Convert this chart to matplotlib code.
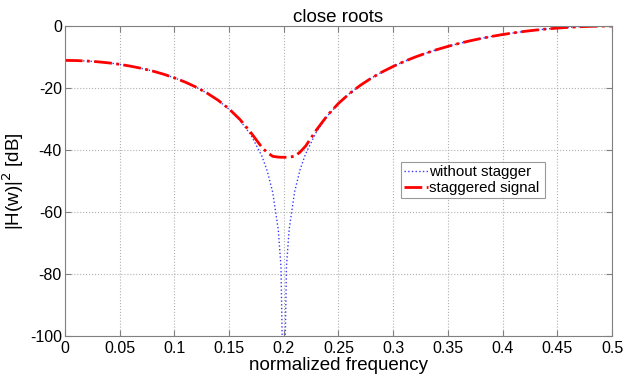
import matplotlib
matplotlib.use("Agg")
import matplotlib.pyplot as plt

plt.rcParams['font.family'] = ['Liberation Sans', 'DejaVu Sans']
plt.rcParams['axes.unicode_minus'] = False

# frequency grid (normalized)
freq = [0.00, 0.01, 0.02, 0.03, 0.04, 0.05, 0.06, 0.07, 0.08, 0.09,
        0.10, 0.11, 0.12, 0.13, 0.14, 0.15, 0.16, 0.17, 0.18, 0.185,
        0.19, 0.195, 0.1975, 0.20, 0.2025, 0.205,
        0.21, 0.215, 0.22, 0.23, 0.24, 0.25, 0.26, 0.27, 0.28, 0.29,
        0.30, 0.31, 0.32, 0.33, 0.34, 0.35, 0.36, 0.37, 0.38, 0.39,
        0.40, 0.41, 0.42, 0.43, 0.44, 0.45, 0.46, 0.47, 0.48, 0.49, 0.50]

# without stagger (dB)
without_stagger = [-11.10, -11.15, -11.30, -11.55, -11.90, -12.37, -12.96, -13.67, -14.52, -15.53,
                   -16.72, -18.11, -19.75, -21.69, -24.02, -26.87, -30.45, -35.18, -41.98, -46.87,
                   -53.81, -65.75, -77.70, -130.0, -77.60, -65.57,
                   -53.46, -46.34, -41.28, -34.11, -29.02, -25.08, -21.86, -19.16, -16.84, -14.82,
                   -13.04, -11.45, -10.03, -8.75, -7.60, -6.57, -5.63, -4.79, -4.03, -3.35,
                   -2.74, -2.20, -1.72, -1.31, -0.96, -0.66, -0.42, -0.23, -0.10, -0.02, 0.0]

# staggered signal (dB)
staggered = [-11.10, -11.15, -11.30, -11.55, -11.90, -12.37, -12.96, -13.67, -14.52, -15.53,
             -16.72, -18.11, -19.74, -21.67, -23.96, -26.75, -30.18, -34.43, -39.18, -40.90,
             -42.10, -42.35, -42.40, -42.40, -42.40, -42.35,
             -42.08, -40.70, -38.79, -33.51, -28.83, -25.00, -21.84, -19.15, -16.83, -14.82,
             -13.04, -11.45, -10.03, -8.75, -7.60, -6.57, -5.63, -4.79, -4.03, -3.35,
             -2.74, -2.20, -1.72, -1.31, -0.96, -0.66, -0.42, -0.23, -0.10, -0.02, 0.0]

xticks = [0, 0.05, 0.1, 0.15, 0.2, 0.25, 0.3, 0.35, 0.4, 0.45, 0.5]
xtick_labels = ['0', '0.05', '0.1', '0.15', '0.2', '0.25', '0.3', '0.35', '0.4', '0.45', '0.5']
yticks = [-100, -80, -60, -40, -20, 0]

fig = plt.figure(figsize=(6.35, 3.78), dpi=100)
ax = fig.add_axes([0.102, 0.1124, 0.862, 0.8187])

ax.plot(freq, without_stagger, color='#3a3aff', linestyle=':', linewidth=1.0,
        label='without stagger')
ax.plot(freq, staggered, color='red', linestyle='-.', linewidth=2.0,
        label='staggered signal')

ax.set_xlim(0, 0.5)
ax.set_ylim(-100, 0)
ax.set_xticks(xticks)
ax.set_xticklabels(xtick_labels)
ax.set_yticks(yticks)
ax.tick_params(direction='in', top=True, right=True, labelsize=11.5,
               color='#808080', length=4)
ax.tick_params(axis='y', pad=2)
ax.tick_params(axis='x', pad=4)
for s in ax.spines.values():
    s.set_color('#808080')
    s.set_linewidth(0.8)
ax.grid(True, linestyle=':', color='#b0b0b0', linewidth=0.8)

ax.set_title('close roots', fontsize=13.5, pad=3)
ax.set_xlabel('normalized frequency', fontsize=13.5, labelpad=1)
ax.set_ylabel('|H(w)|$^2$ [dB]', fontsize=13.5, labelpad=3)

leg = ax.legend(loc='lower left', bbox_to_anchor=(0.614, 0.444, 0.264, 0.126),
                mode='expand', fontsize=10.8, frameon=True, fancybox=False,
                handlelength=1.6, handletextpad=0.1, borderpad=0.2,
                labelspacing=0.15, borderaxespad=0)
leg.get_frame().set_edgecolor('#808080')
leg.get_frame().set_linewidth(0.8)

fig.savefig('out.png', dpi=100)
